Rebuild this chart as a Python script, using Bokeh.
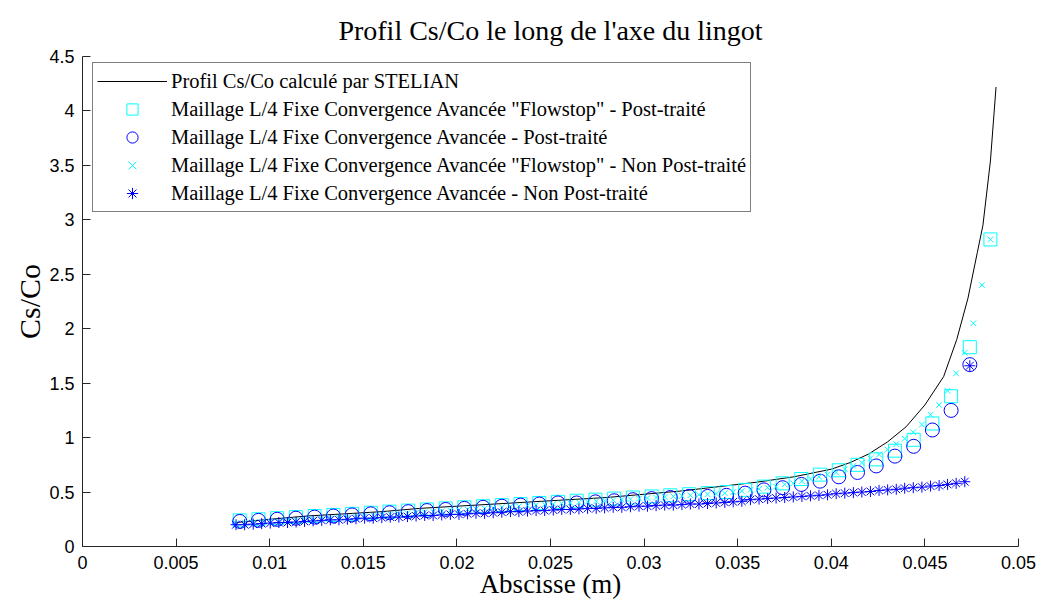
from bokeh.plotting import figure
from bokeh.models import FixedTicker, Legend, LegendItem, Range1d
from bokeh.embed import file_html
from bokeh.resources import INLINE

# ---------------- data ----------------
title_text = "Profil Cs/Co le long de l'axe du lingot"
x_label = "Abscisse (m)"
y_label = "Cs/Co"

x_ticks = [0, 0.005, 0.01, 0.015, 0.02, 0.025, 0.03, 0.035, 0.04, 0.045, 0.05]
x_tick_labels = ["0", "0.005", "0.01", "0.015", "0.02", "0.025", "0.03", "0.035", "0.04", "0.045", "0.05"]
y_ticks = [0, 0.5, 1, 1.5, 2, 2.5, 3, 3.5, 4, 4.5]
y_tick_labels = ["0", "0.5", "1", "1.5", "2", "2.5", "3", "3.5", "4", "4.5"]

series_names = [
    "Profil Cs/Co calculé par STELIAN",
    "Maillage L/4 Fixe Convergence Avancée \"Flowstop\" - Post-traité",
    "Maillage L/4 Fixe Convergence Avancée - Post-traité",
    "Maillage L/4 Fixe Convergence Avancée \"Flowstop\" - Non Post-traité",
    "Maillage L/4 Fixe Convergence Avancée - Non Post-traité",
]

# STELIAN profile (black line)
line_x = [0.0082, 0.0100, 0.0120, 0.0140, 0.0160, 0.0180, 0.0200, 0.0220, 0.0240, 0.0260,
          0.0280, 0.0300, 0.0320, 0.0340, 0.0360, 0.0380, 0.0400, 0.0410, 0.0420, 0.0430,
          0.0440, 0.0450, 0.0460, 0.0467, 0.0473, 0.0478, 0.0481, 0.0485, 0.0488]
line_y = [0.22, 0.25, 0.28, 0.30, 0.32, 0.35, 0.37, 0.39, 0.41, 0.43,
          0.45, 0.48, 0.51, 0.55, 0.59, 0.64, 0.71, 0.77, 0.85, 0.96,
          1.10, 1.30, 1.56, 1.90, 2.28, 2.70, 2.95, 3.54, 4.22]

# "Flowstop" post-traite (cyan squares)
sq_x = [0.0084, 0.0094, 0.0104, 0.0114, 0.0124, 0.0134, 0.0144, 0.0154, 0.0164, 0.0174,
        0.0184, 0.0194, 0.0204, 0.0214, 0.0224, 0.0234, 0.0244, 0.0254, 0.0264, 0.0274,
        0.0284, 0.0294, 0.0304, 0.0314, 0.0324, 0.0334, 0.0344, 0.0354, 0.0364, 0.0374,
        0.0384, 0.0394, 0.0404, 0.0414, 0.0424, 0.0434, 0.0444, 0.0454, 0.0464, 0.0474,
        0.0485]
sq_y = [0.24, 0.25, 0.26, 0.27, 0.28, 0.29, 0.30, 0.31, 0.32, 0.33,
        0.34, 0.35, 0.36, 0.37, 0.38, 0.39, 0.40, 0.41, 0.42, 0.43,
        0.44, 0.45, 0.46, 0.47, 0.48, 0.49, 0.50, 0.52, 0.55, 0.58,
        0.62, 0.66, 0.70, 0.75, 0.80, 0.88, 0.98, 1.13, 1.38, 1.83,
        2.82]

# post-traite (blue circles)
ci_x = [0.0084, 0.0094, 0.0104, 0.0114, 0.0124, 0.0134, 0.0144, 0.0154, 0.0164, 0.0174,
        0.0184, 0.0194, 0.0204, 0.0214, 0.0224, 0.0234, 0.0244, 0.0254, 0.0264, 0.0274,
        0.0284, 0.0294, 0.0304, 0.0314, 0.0324, 0.0334, 0.0344, 0.0354, 0.0364, 0.0374,
        0.0384, 0.0394, 0.0404, 0.0414, 0.0424, 0.0434, 0.0444, 0.0454, 0.0464, 0.0474]
ci_y = [0.23, 0.24, 0.25, 0.26, 0.27, 0.28, 0.29, 0.30, 0.31, 0.32,
        0.33, 0.34, 0.35, 0.36, 0.37, 0.38, 0.39, 0.40, 0.40, 0.41,
        0.42, 0.43, 0.44, 0.45, 0.46, 0.46, 0.47, 0.49, 0.52, 0.54,
        0.57, 0.60, 0.64, 0.68, 0.74, 0.83, 0.92, 1.07, 1.25, 1.67]

# "Flowstop" non post-traite (cyan x) - dense nodes
fx_x = [0.00820, 0.00866, 0.00912, 0.00957, 0.01003, 0.01049, 0.01095, 0.01141, 0.01186, 0.01232,
        0.01278, 0.01324, 0.01370, 0.01415, 0.01461, 0.01507, 0.01553, 0.01599, 0.01644, 0.01690,
        0.01736, 0.01782, 0.01828, 0.01873, 0.01919, 0.01965, 0.02011, 0.02057, 0.02102, 0.02148,
        0.02194, 0.02240, 0.02286, 0.02331, 0.02377, 0.02423, 0.02469, 0.02515, 0.02560, 0.02606,
        0.02652, 0.02698, 0.02744, 0.02789, 0.02835, 0.02881, 0.02927, 0.02973, 0.03018, 0.03064,
        0.03110, 0.03156, 0.03202, 0.03247, 0.03293, 0.03339, 0.03385, 0.03431, 0.03476, 0.03522,
        0.03568, 0.03614, 0.03660, 0.03705, 0.03751, 0.03797, 0.03843, 0.03889, 0.03934, 0.03980,
        0.04026, 0.04072, 0.04118, 0.04163, 0.04209, 0.04255, 0.04301, 0.04347, 0.04392, 0.04438,
        0.04484, 0.04530, 0.04576, 0.04621, 0.04667, 0.04713, 0.04759, 0.04805, 0.04850]
fx_y = [0.215, 0.22, 0.22, 0.225, 0.23, 0.23, 0.235, 0.24, 0.245, 0.25,
        0.255, 0.26, 0.265, 0.27, 0.275, 0.28, 0.285, 0.29, 0.295, 0.30,
        0.305, 0.31, 0.315, 0.32, 0.325, 0.33, 0.335, 0.34, 0.345, 0.35,
        0.355, 0.36, 0.365, 0.37, 0.375, 0.38, 0.385, 0.39, 0.395, 0.40,
        0.405, 0.41, 0.415, 0.42, 0.425, 0.43, 0.435, 0.44, 0.445, 0.45,
        0.455, 0.46, 0.465, 0.47, 0.475, 0.48, 0.485, 0.49, 0.50, 0.51,
        0.52, 0.53, 0.54, 0.55, 0.57, 0.58, 0.60, 0.62, 0.64, 0.66,
        0.68, 0.71, 0.74, 0.77, 0.81, 0.845, 0.89, 0.94, 0.99, 1.05,
        1.12, 1.21, 1.30, 1.43, 1.59, 1.78, 2.05, 2.40, 2.82]

# non post-traite (blue asterisks)
as_x = [0.00820, 0.00866, 0.00912, 0.00957, 0.01003, 0.01049, 0.01095, 0.01141, 0.01186, 0.01232,
        0.01278, 0.01324, 0.01370, 0.01415, 0.01461, 0.01507, 0.01553, 0.01599, 0.01644, 0.01690,
        0.01736, 0.01782, 0.01828, 0.01873, 0.01919, 0.01965, 0.02011, 0.02057, 0.02102, 0.02148,
        0.02194, 0.02240, 0.02286, 0.02331, 0.02377, 0.02423, 0.02469, 0.02515, 0.02560, 0.02606,
        0.02652, 0.02698, 0.02744, 0.02789, 0.02835, 0.02881, 0.02927, 0.02973, 0.03018, 0.03064,
        0.03110, 0.03156, 0.03202, 0.03247, 0.03293, 0.03339, 0.03385, 0.03431, 0.03476, 0.03522,
        0.03568, 0.03614, 0.03660, 0.03705, 0.03751, 0.03797, 0.03843, 0.03889, 0.03934, 0.03980,
        0.04026, 0.04072, 0.04118, 0.04163, 0.04209, 0.04255, 0.04301, 0.04347, 0.04392, 0.04438,
        0.04484, 0.04530, 0.04576, 0.04621, 0.04667, 0.04713, 0.04740]
as_y = [0.20, 0.20, 0.205, 0.21, 0.215, 0.22, 0.22, 0.225, 0.23, 0.235,
        0.24, 0.245, 0.245, 0.25, 0.255, 0.26, 0.26, 0.265, 0.27, 0.27,
        0.275, 0.28, 0.285, 0.285, 0.29, 0.295, 0.295, 0.30, 0.305, 0.305,
        0.31, 0.315, 0.32, 0.32, 0.325, 0.33, 0.33, 0.335, 0.34, 0.34,
        0.345, 0.35, 0.35, 0.355, 0.36, 0.36, 0.365, 0.37, 0.37, 0.375,
        0.38, 0.38, 0.385, 0.39, 0.39, 0.395, 0.40, 0.405, 0.41, 0.415,
        0.43, 0.435, 0.44, 0.445, 0.45, 0.455, 0.46, 0.465, 0.47, 0.475,
        0.485, 0.49, 0.495, 0.50, 0.505, 0.515, 0.52, 0.525, 0.535, 0.54,
        0.545, 0.555, 0.56, 0.57, 0.58, 0.595, 1.66]

# ---------------- figure ----------------
SERIF = "Liberation Serif"
SANS = "Liberation Sans"
CYAN = "#00ffff"
BLUE = "#0000ff"

p = figure(frame_width=936, frame_height=490,
           x_range=Range1d(0, 0.05), y_range=Range1d(0, 4.5),
           output_backend="svg", toolbar_location=None,
           min_border_left=82, min_border_right=23,
           min_border_top=56, min_border_bottom=56)

p.title.text = title_text
p.title.align = "center"
p.title.text_font = SERIF
p.title.text_font_size = "28px"
p.title.text_font_style = "normal"
p.title.text_color = "black"
p.title.standoff = 22

p.outline_line_color = None
p.xgrid.visible = False
p.ygrid.visible = False
p.background_fill_color = "white"
p.border_fill_color = "white"

for ax, ticks, labels in ((p.xaxis[0], x_ticks, x_tick_labels), (p.yaxis[0], y_ticks, y_tick_labels)):
    ax.ticker = FixedTicker(ticks=ticks)
    ax.major_label_overrides = {t: l for t, l in zip(ticks, labels)}
    ax.major_tick_in = 8
    ax.major_tick_out = 0
    ax.minor_tick_in = 0
    ax.minor_tick_out = 0
    ax.axis_line_color = "#262626"
    ax.major_tick_line_color = "#262626"
    ax.major_label_text_font = SANS
    ax.major_label_text_font_size = "18px"
    ax.major_label_text_color = "black"
    ax.axis_label_text_font = SERIF
    ax.axis_label_text_font_style = "normal"
    ax.axis_label_text_color = "black"

p.xaxis.axis_label = x_label
p.yaxis.axis_label = y_label
p.xaxis.axis_label_text_font_size = "27px"
p.yaxis.axis_label_text_font_size = "30px"
p.xaxis.axis_label_standoff = -3
p.yaxis.axis_label_standoff = 0
p.xaxis.major_label_standoff = 9
p.yaxis.major_label_standoff = 8

r_line = p.line(line_x, line_y, line_color="black", line_width=1)
r_sq = p.scatter(sq_x, sq_y, marker="square", size=13, fill_color=None,
                 line_color=CYAN, line_width=1)
r_ci = p.scatter(ci_x, ci_y, marker="circle", size=14, fill_color=None,
                 line_color=BLUE, line_width=1)
r_fx = p.scatter(fx_x, fx_y, marker="x", size=8, line_color=CYAN, line_width=1)
r_as = p.scatter(as_x, as_y, marker="asterisk", size=11, line_color=BLUE, line_width=1)

legend = Legend(items=[
    LegendItem(label=series_names[0], renderers=[r_line]),
    LegendItem(label=series_names[1], renderers=[r_sq]),
    LegendItem(label=series_names[2], renderers=[r_ci]),
    LegendItem(label=series_names[3], renderers=[r_fx]),
    LegendItem(label=series_names[4], renderers=[r_as]),
], location=(10, 334))
legend.border_line_color = "black"
legend.border_line_width = 1
legend.background_fill_color = "white"
legend.background_fill_alpha = 1
legend.padding = 4
legend.spacing = 0
legend.margin = 0
legend.label_height = 28
legend.glyph_height = 28
legend.glyph_width = 70
legend.label_standoff = 4
legend.label_text_font = SERIF
legend.label_text_font_size = "20.5px"
legend.label_text_color = "black"
p.add_layout(legend)

open("out.html", "w").write(file_html(p, INLINE))
